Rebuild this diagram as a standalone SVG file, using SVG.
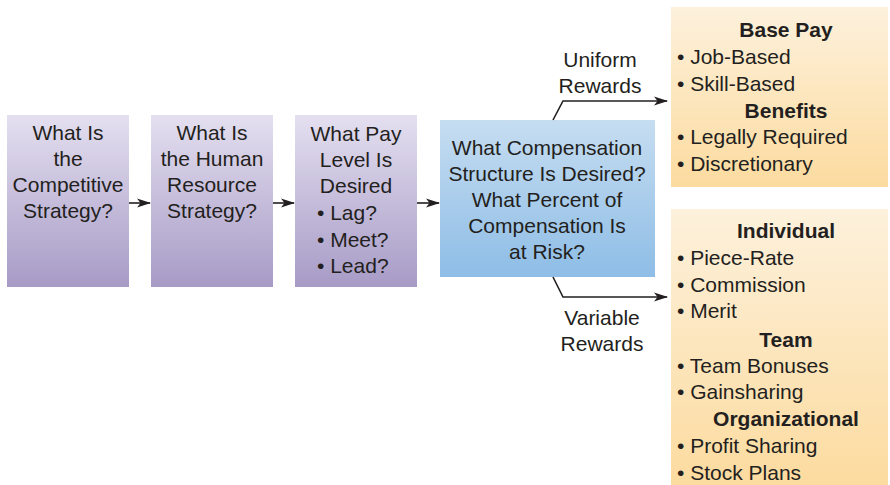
<svg xmlns="http://www.w3.org/2000/svg" width="890" height="485" viewBox="0 0 890 485">
<defs>
<linearGradient id="gPurple" x1="0" y1="0" x2="0" y2="1">
<stop offset="0" stop-color="#e4dff0"/>
<stop offset="1" stop-color="#a79bc6"/>
</linearGradient>
<linearGradient id="gBlue" x1="0" y1="0" x2="0" y2="1">
<stop offset="0" stop-color="#c6ddf1"/>
<stop offset="1" stop-color="#8ebde6"/>
</linearGradient>
<linearGradient id="gOrange" x1="0" y1="0" x2="0" y2="1">
<stop offset="0" stop-color="#fdf1dc"/>
<stop offset="1" stop-color="#fcdb9f"/>
</linearGradient>
<marker id="arr" viewBox="0 0 14 10" refX="13" refY="5" markerWidth="14" markerHeight="10" markerUnits="userSpaceOnUse" orient="auto">
<path d="M0,0.5 L14,5 L0,9.5 L3.5,5 Z" fill="#231f20"/>
</marker>
<style>
text{font-family:"Liberation Sans",Arial,sans-serif;font-size:21px;fill:#231f20}
.c{text-anchor:middle}
.b{font-weight:bold;text-anchor:middle}
.ln{fill:none;stroke:#231f20;stroke-width:1.6}
</style>
</defs>
<g id="n1">
<rect x="7" y="115" width="122" height="172" fill="url(#gPurple)"/>
<text class="c" x="68" y="140">What Is</text>
<text class="c" x="68" y="166">the</text>
<text class="c" x="68" y="192">Competitive</text>
<text class="c" x="68" y="218">Strategy?</text>
</g>
<g id="n2">
<rect x="151" y="115" width="122" height="172" fill="url(#gPurple)"/>
<text class="c" x="212" y="140">What Is</text>
<text class="c" x="212" y="166">the Human</text>
<text class="c" x="212" y="192">Resource</text>
<text class="c" x="212" y="218">Strategy?</text>
</g>
<g id="n3">
<rect x="295" y="115" width="122" height="172" fill="url(#gPurple)"/>
<text class="c" x="356" y="141">What Pay</text>
<text class="c" x="356" y="167">Level Is</text>
<text class="c" x="356" y="193">Desired</text>
<text x="317" y="220">• Lag?</text>
<text x="317" y="247">• Meet?</text>
<text x="317" y="273">• Lead?</text>
</g>
<g id="n4">
<rect x="440" y="120" width="215" height="157" fill="url(#gBlue)"/>
<text class="c" x="547" y="155">What Compensation</text>
<text class="c" x="547" y="181">Structure Is Desired?</text>
<text class="c" x="547" y="207">What Percent of</text>
<text class="c" x="547" y="233">Compensation Is</text>
<text class="c" x="547" y="259">at Risk?</text>
</g>
<g id="n5">
<rect x="671" y="7" width="217" height="180" fill="url(#gOrange)"/>
<text class="b" x="786" y="37">Base Pay</text>
<text x="677" y="64">• Job-Based</text>
<text x="677" y="91">• Skill-Based</text>
<text class="b" x="786" y="118">Benefits</text>
<text x="677" y="144">• Legally Required</text>
<text x="677" y="171">• Discretionary</text>
</g>
<g id="n6">
<rect x="671" y="209" width="217" height="276" fill="url(#gOrange)"/>
<text class="b" x="786" y="238">Individual</text>
<text x="677" y="265">• Piece-Rate</text>
<text x="677" y="292">• Commission</text>
<text x="677" y="318">• Merit</text>
<text class="b" x="786" y="347">Team</text>
<text x="677" y="373">• Team Bonuses</text>
<text x="677" y="399">• Gainsharing</text>
<text class="b" x="786" y="426">Organizational</text>
<text x="677" y="453">• Profit Sharing</text>
<text x="677" y="480">• Stock Plans</text>
</g>
<g id="connectors">
<line class="ln" x1="129" y1="203" x2="150" y2="203" marker-end="url(#arr)"/>
<line class="ln" x1="273" y1="203" x2="294" y2="203" marker-end="url(#arr)"/>
<line class="ln" x1="417" y1="203" x2="439" y2="203" marker-end="url(#arr)"/>
<polyline class="ln" points="553,120 563,101 667,101" marker-end="url(#arr)"/>
<polyline class="ln" points="553,277 563,297 667,297" marker-end="url(#arr)"/>
<text class="c" x="600" y="67">Uniform</text>
<text class="c" x="600" y="93">Rewards</text>
<text class="c" x="602" y="325">Variable</text>
<text class="c" x="602" y="351">Rewards</text>
</g>
</svg>
